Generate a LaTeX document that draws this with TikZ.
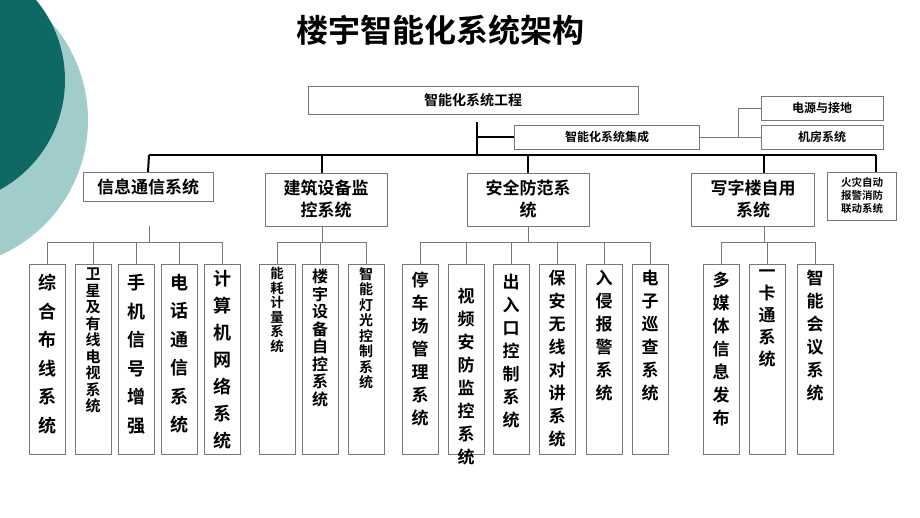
\documentclass[tikz,border=0pt]{standalone}
\usepackage{fontspec}
\setmainfont{Noto Sans CJK SC}[BoldFont={* Bold}]
\usetikzlibrary{positioning}
\definecolor{darkteal}{RGB}{14,104,100}
\definecolor{lightteal}{RGB}{160,204,204}
\definecolor{boxgray}{RGB}{120,120,120}
\tikzset{
  box/.style={draw=boxgray,line width=0.9pt,fill=white,inner sep=1pt},
  leaf/.style={box,minimum width=36pt,minimum height=190pt,anchor=north},
  ltext/.style={anchor=north,align=center,inner sep=0pt},
  fs/.style 2 args={font=\fontsize{#1pt}{#2pt}\selectfont\bfseries},
  bus/.style={line width=2pt,black},
  sub/.style={line width=0.8pt,boxgray}
}
\begin{document}
\begin{tikzpicture}[x=1pt,y=-1pt]
\useasboundingbox (0,0) rectangle (920,518);
\fill[lightteal] (-60,120) circle (148);
\fill[darkteal] (-60,80) circle (125);

\node[fs={32}{36}] (title) at (440,30) {楼宇智能化系统架构};

% top level
\node[box,fs={14}{16},minimum width=330pt,minimum height=28pt] (top) at (473,100) {智能化系统工程};
\node[box,fs={12}{14},minimum width=185pt,minimum height=24pt] (integ) at (607,137) {智能化系统集成};
\node[box,fs={12}{14},minimum width=122pt,minimum height=24pt] (power) at (822,108) {电源与接地};
\node[box,fs={12}{14},minimum width=122pt,minimum height=24pt] (room) at (822,137) {机房系统};
\coordinate (j1) at (477,155);
\coordinate (j2) at (738,137);
\draw[bus] (477,122) -- (j1);
\draw[bus] (477,137) -- (integ.west);
\draw[sub] (integ.east) -- (room.west);
\draw[sub] (j2) |- (power.west);

% second level
\node[box,fs={17}{20},minimum width=130pt,minimum height=29pt] (info) at (148,187) {信息通信系统};
\node[box,fs={17}{22},minimum width=122pt,minimum height=53pt,align=center] (bldg) at (326,199.5) {建筑设备监\\控系统};
\node[box,fs={17}{22},minimum width=122pt,minimum height=53pt,align=center] (sec) at (528,199.5) {安全防范系\\统};
\node[box,fs={17}{22},minimum width=123pt,minimum height=53pt,align=center] (office) at (753,199.5) {写字楼自用\\系统};
\node[box,fs={10.5}{13},minimum width=69pt,minimum height=48pt,align=center] (fire) at (862,196) {火灾自动\\报警消防\\联动系统};
\draw[bus] (149,155) -- (876,155);
\draw[bus] (149,155) -- (info.north);
\draw[bus] (322,155) -- (322,173);
\draw[bus] (528,155) -- (sec.north);
\draw[bus] (764,155) -- (764,173);
\draw[bus] (876,155) -- (876,172);

% leaves
\foreach \n/\x in {a1/47,a2/93,a3/136,a4/179,a5/222,b1/277,b2/320,b3/366,c1/420,c2/466,c3/511,c4/557,c5/604,c6/650,d1/721,d2/767,d3/815}
  \node[leaf] (\n) at (\x,264) {};
\draw[sub] (149,226) -- (149,242) (47,242) -- (222,242);
\foreach \n in {a1,a2,a3,a4,a5} \draw[sub] (\n.north |- 0,242) -- (\n.north);
\draw[sub] (322,226) -- (322,242) (277,242) -- (366,242);
\foreach \n in {b1,b2,b3} \draw[sub] (\n.north |- 0,242) -- (\n.north);
\draw[sub] (sec.south) -- (528,242) (420,242) -- (650,242);
\foreach \n in {c1,c2,c3,c4,c5,c6} \draw[sub] (\n.north |- 0,242) -- (\n.north);
\draw[sub] (764,226) -- (764,242) (721,242) -- (815,242);
\foreach \n in {d1,d2,d3} \draw[sub] (\n.north |- 0,242) -- (\n.north);

\node[ltext,fs={18}{28.5}] at ([yshift=-10]a1.north) {综\\合\\布\\线\\系\\统};
\node[ltext,fs={15}{16.5}] at ([yshift=-4]a2.north) {卫\\星\\及\\有\\线\\电\\视\\系\\统};
\node[ltext,fs={18}{28.5}] at ([yshift=-10]a3.north) {手\\机\\信\\号\\增\\强};
\node[ltext,fs={18}{28.5}] at ([yshift=-10]a4.north) {电\\话\\通\\信\\系\\统};
\node[ltext,fs={18}{27}] at ([yshift=-6]a5.north) {计\\算\\机\\网\\络\\系\\统};
\node[ltext,fs={13.5}{14.5}] at ([yshift=-3]b1.north) {能\\耗\\计\\量\\系\\统};
\node[ltext,fs={16}{17.5}] at ([yshift=-5]b2.north) {楼\\宇\\设\\备\\自\\控\\系\\统};
\node[ltext,fs={14}{15.5}] at ([yshift=-3]b3.north) {智\\能\\灯\\光\\控\\制\\系\\统};
\node[ltext,fs={17}{23}] at ([yshift=-8]c1.north) {停\\车\\场\\管\\理\\系\\统};
\node[ltext,fs={17}{23}] at ([yshift=-24]c2.north) {视\\频\\安\\防\\监\\控\\系\\统};
\node[ltext,fs={17}{23}] at ([yshift=-10]c3.north) {出\\入\\口\\控\\制\\系\\统};
\node[ltext,fs={17}{23}] at ([yshift=-6]c4.north) {保\\安\\无\\线\\对\\讲\\系\\统};
\node[ltext,fs={17}{23}] at ([yshift=-6]c5.north) {入\\侵\\报\\警\\系\\统};
\node[ltext,fs={17}{23}] at ([yshift=-6]c6.north) {电\\子\\巡\\查\\系\\统};
\node[ltext,fs={17}{23}] at ([yshift=-8]d1.north) {多\\媒\\体\\信\\息\\发\\布};
\node[ltext,fs={17}{22}] at ([yshift=-6]d2.north) {一\\卡\\通\\系\\统};
\node[ltext,fs={17}{23}] at ([yshift=-6]d3.north) {智\\能\\会\\议\\系\\统};
\end{tikzpicture}
\end{document}
